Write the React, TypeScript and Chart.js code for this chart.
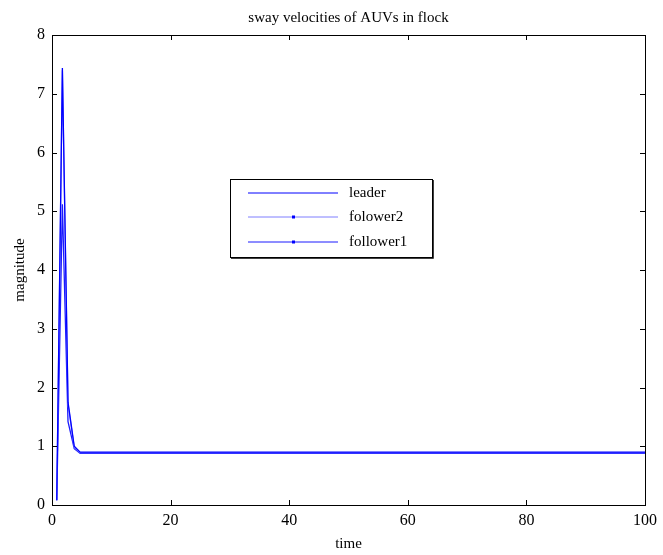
import { useEffect, useRef } from "react";
import { Chart, registerables } from "chart.js";
Chart.register(...registerables);

const time = [0.8, 1.75, 2.7, 3.75, 4.75, 100];
const leader = [0.08, 7.44, 1.75, 1.0, 0.9, 0.9];
const follower2 = [0.08, 7.4, 1.72, 0.98, 0.89, 0.89];
const follower1 = [0.08, 5.12, 1.42, 0.96, 0.88, 0.88];
const seriesNames = ["leader", "folower2", "follower1"];
const xTicks = [0, 20, 40, 60, 80, 100];
const yTicks = [0, 1, 2, 3, 4, 5, 6, 7, 8];
const titleText = "sway velocities of AUVs in flock";
const xTitle = "time";
const yTitle = "magnitude";

const FONT = '"Liberation Serif", "DejaVu Serif", serif';
const colors = ["#0000ff", "#7f7fff", "#1a1aff"];

const toPoints = (ys: number[]) => ys.map((y, i) => ({ x: time[i], y }));

const decorPlugin = {
  id: "decor",
  afterDraw(chart: any) {
    const { ctx, chartArea: a, scales } = chart;
    const xs = scales.x;
    const ys = scales.y;
    ctx.save();
    // frame
    ctx.strokeStyle = "#000";
    ctx.lineWidth = 1;
    ctx.strokeRect(Math.round(a.left) + 0.5, Math.round(a.top) + 0.5, Math.round(a.right - a.left), Math.round(a.bottom - a.top));
    // ticks inward
    const tl = 5;
    ctx.beginPath();
    yTicks.forEach((v) => {
      const y = Math.round(ys.getPixelForValue(v)) + 0.5;
      ctx.moveTo(a.left, y);
      ctx.lineTo(a.left + tl, y);
      ctx.moveTo(a.right, y);
      ctx.lineTo(a.right - tl, y);
    });
    xTicks.forEach((v) => {
      const x = Math.round(xs.getPixelForValue(v)) + 0.5;
      ctx.moveTo(x, a.bottom);
      ctx.lineTo(x, a.bottom - tl);
      ctx.moveTo(x, a.top);
      ctx.lineTo(x, a.top + tl);
    });
    ctx.stroke();
    // titles
    ctx.fillStyle = "#000";
    ctx.font = `15px ${FONT}`;
    ctx.textAlign = "center";
    ctx.textBaseline = "middle";
    const cx = (a.left + a.right) / 2;
    ctx.fillText(titleText, cx, 18);
    ctx.fillText(xTitle, cx, 544);
    ctx.save();
    ctx.translate(20, (a.top + a.bottom) / 2);
    ctx.rotate(-Math.PI / 2);
    ctx.fillText(yTitle, 0, 0);
    ctx.restore();
    // legend
    const lx = 230, ly = 179, lw = 202, lh = 78;
    ctx.fillStyle = "#fff";
    ctx.fillRect(lx, ly, lw, lh);
    ctx.strokeStyle = "#000";
    ctx.lineWidth = 1;
    ctx.strokeRect(lx + 0.5, ly + 0.5, lw, lh);
    ctx.lineWidth = 1.5;
    ctx.beginPath();
    ctx.moveTo(lx + lw + 1, ly + 1);
    ctx.lineTo(lx + lw + 1, ly + lh + 1);
    ctx.lineTo(lx + 1, ly + lh + 1);
    ctx.stroke();
    const rows = [193, 217, 242];
    seriesNames.forEach((name, i) => {
      const y = rows[i];
      ctx.strokeStyle = colors[i];
      ctx.lineWidth = 1;
      ctx.beginPath();
      ctx.moveTo(248, y);
      ctx.lineTo(338, y);
      ctx.stroke();
      if (i > 0) {
        ctx.fillStyle = "#0000ff";
        ctx.fillRect(292, y - 1.5, 3, 3);
      }
      ctx.fillStyle = "#000";
      ctx.textAlign = "left";
      ctx.textBaseline = "middle";
      ctx.font = `15px ${FONT}`;
      ctx.fillText(name, 349, y);
    });
    ctx.restore();
  },
};

export default function App() {
  const ref = useRef<HTMLCanvasElement>(null);
  useEffect(() => {
    document.body.style.margin = "0";
    const chart = new Chart(ref.current!, {
      type: "line",
      data: {
        datasets: [
          { label: seriesNames[0], data: toPoints(leader), borderColor: colors[0], borderWidth: 1.3, pointRadius: 0, tension: 0 },
          { label: seriesNames[1], data: toPoints(follower2), borderColor: colors[1], borderWidth: 1.3, pointRadius: 0, tension: 0 },
          { label: seriesNames[2], data: toPoints(follower1), borderColor: colors[2], borderWidth: 1.3, pointRadius: 0, tension: 0 },
        ],
      },
      options: {
        animation: false,
        responsive: false,
        events: [],
        layout: { padding: { top: 35, right: 16, left: 0, bottom: 0 } },
        plugins: { legend: { display: false }, title: { display: false }, tooltip: { enabled: false } },
        scales: {
          x: {
            type: "linear",
            min: 0,
            max: 100,
            afterFit: (s: any) => { s.height = 50; },
            afterBuildTicks: (s: any) => { s.ticks = xTicks.map((v) => ({ value: v })); },
            grid: { display: false, drawTicks: false, tickLength: 0 },
            border: { display: false },
            ticks: { color: "#000", font: { family: FONT, size: 16 }, padding: 6, maxRotation: 0 },
          },
          y: {
            type: "linear",
            min: 0,
            max: 8,
            afterFit: (s: any) => { s.width = 52; },
            afterBuildTicks: (s: any) => { s.ticks = yTicks.map((v) => ({ value: v })); },
            grid: { display: false, drawTicks: false, tickLength: 0 },
            border: { display: false },
            ticks: { color: "#000", font: { family: FONT, size: 16 }, padding: 7 },
          },
        },
      },
      plugins: [decorPlugin],
    });
    return () => chart.destroy();
  }, []);
  return <canvas ref={ref} width={663} height={555} style={{ display: "block" }} />;
}
